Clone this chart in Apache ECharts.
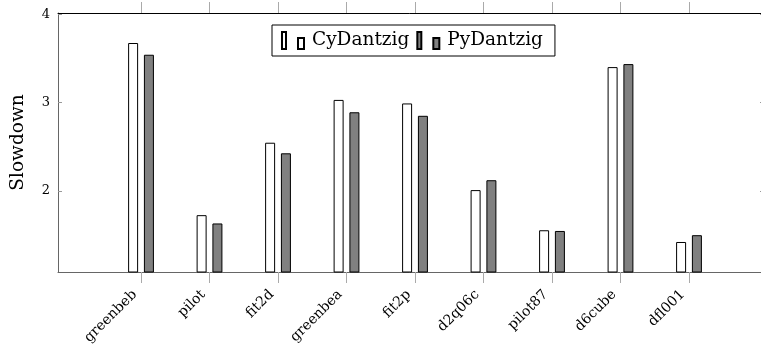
<!DOCTYPE html>
<html><head><meta charset="utf-8">
<script src="https://cdn.jsdelivr.net/npm/echarts@6/dist/echarts.min.js"></script>
<style>html,body{margin:0;padding:0;background:#fff}#c{width:761px;height:345px}</style>
</head><body><div id="c"></div>
<script>
var categories = ['greenbeb','pilot','fit2d','greenbea','fit2p','d2q06c','pilot87','d6cube','dfl001'];
var cyDantzig = [3.675, 1.724, 2.545, 3.03, 2.99, 2.008, 1.553, 3.402, 1.42];
var pyDantzig = [3.542, 1.63, 2.425, 2.89, 2.85, 2.12, 1.545, 3.436, 1.497];
var yTicks = [2, 3, 4];
var xTickIdx = categories.map(function(_, i){ return i; });

var font = 'DejaVu Serif';
var chart = echarts.init(document.getElementById('c'), null, {renderer: 'canvas'});
function pairs(arr){ return arr.map(function(v, i){ return [i, v]; }); }
var xmin = -1.212, xmax = 9.095;
chart.setOption({
  animation: false,
  grid: {left: 58, right: -3, top: 13, bottom: 73, containLabel: false, outerBoundsMode: 'none'},
  legend: {
    left: 272, top: 25, orient: 'horizontal',
    padding: [6, 12, 6, 9],
    borderColor: '#000', borderWidth: 1, backgroundColor: '#fff',
    itemWidth: 22, itemHeight: 17, itemGap: 7,
    textStyle: {fontFamily: font, fontSize: 18.5, color: '#000', padding: [0, 0, 0, 3]},
    data: [
      {name: 'CyDantzig', icon: 'path://M0,0H4V17H0ZM16,6H22V17H16Z'},
      {name: 'PyDantzig', icon: 'path://M0,0H4V17H0ZM16,6H22V17H16Z'}
    ]
  },
  xAxis: [{
    type: 'value', min: xmin, max: xmax, position: 'bottom',
    axisLine: {show: true, onZero: false, lineStyle: {color: '#666', width: 1}},
    axisTick: {show: true, inside: false, length: 11, customValues: xTickIdx, lineStyle: {color: '#aaa'}},
    axisLabel: {show: true, customValues: xTickIdx, rotate: 45, margin: 14,
      padding: [0, 9, 0, 0],
      fontFamily: font, fontSize: 14, color: '#000',
      formatter: function(v){ return categories[Math.round(v)] || ''; }},
    splitLine: {show: false}
  }, {
    type: 'value', min: xmin, max: xmax, position: 'top',
    axisLine: {show: true, onZero: false, lineStyle: {color: '#000', width: 1}},
    axisTick: {show: true, inside: false, length: 11, customValues: xTickIdx, lineStyle: {color: '#aaa'}},
    axisLabel: {show: false},
    splitLine: {show: false}
  }],
  yAxis: [{
    type: 'value', min: 1.08, max: 4.015, position: 'left',
    name: 'Slowdown', nameLocation: 'middle', nameGap: 30, nameRotate: 90,
    nameTextStyle: {fontFamily: font, fontSize: 18.5, color: '#000'},
    axisLine: {show: true, onZero: false, lineStyle: {color: '#666', width: 1}},
    axisTick: {show: true, inside: true, length: 4, customValues: yTicks, lineStyle: {color: '#999'}},
    axisLabel: {show: true, customValues: yTicks, margin: 8, fontFamily: font, fontSize: 13, color: '#000'},
    splitLine: {show: false}
  }, {
    type: 'value', min: 1.08, max: 4.015, position: 'right',
    axisLine: {show: true, onZero: false, lineStyle: {color: '#000', width: 1}},
    axisTick: {show: true, inside: true, length: 4, customValues: yTicks, lineStyle: {color: '#999'}},
    axisLabel: {show: false},
    splitLine: {show: false}
  }],
  series: [{
    name: 'CyDantzig', type: 'bar', xAxisIndex: 0, yAxisIndex: 0,
    data: pairs(cyDantzig), barWidth: 10, barGap: '58%',
    itemStyle: {color: '#fff', borderColor: '#000', borderWidth: 1}
  }, {
    name: 'PyDantzig', type: 'bar', xAxisIndex: 0, yAxisIndex: 0,
    data: pairs(pyDantzig), barWidth: 10, barGap: '58%',
    itemStyle: {color: '#808080', borderColor: '#000', borderWidth: 1}
  }]
});
</script></body></html>
